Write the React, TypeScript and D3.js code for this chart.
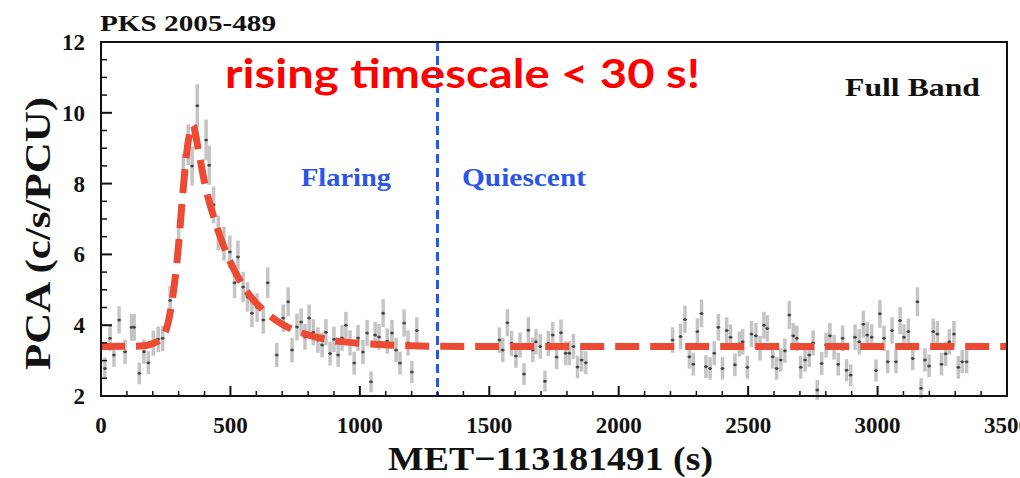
import React from "react";
import * as d3 from "d3";

// ---- data ----
const obsTime = [
  15, 35, 50, 70, 93, 118, 128, 148, 166, 183, 202, 221, 238, 267, 300, 318, 337, 352, 372, 406, 418, 435, 453, 475,
  498, 516, 529, 549, 566, 583, 603, 627, 644, 679, 704, 723, 738, 757, 773, 788, 804, 820, 838, 854, 869, 885, 900,
  916, 931, 946, 962, 978, 993, 1012, 1028, 1043, 1059, 1074, 1090, 1106, 1124, 1140, 1155, 1171, 1186, 1201, 1220,
  1539, 1552, 1570, 1586, 1603, 1619, 1634, 1651, 1668, 1680, 1697, 1715, 1728, 1745, 1760, 1777, 1795, 1809, 1825,
  1841, 1857, 1873,
  2208, 2239, 2256, 2273, 2288, 2304, 2320, 2337, 2353, 2369, 2385, 2401, 2417, 2432, 2449, 2466, 2479, 2497, 2513,
  2530, 2546, 2561, 2574, 2595, 2610, 2626, 2642, 2659, 2674, 2688, 2703, 2720, 2736, 2751, 2767, 2784, 2801, 2816,
  2832, 2848, 2865, 2880, 2896, 2913, 2929, 2945, 2960, 2977, 2994, 3009, 3025, 3039, 3056, 3071, 3087, 3102, 3119,
  3136, 3154, 3168, 3183, 3199, 3215, 3231, 3247, 3263, 3277, 3295, 3312, 3327, 3344,
];
const obsRate = [
  2.78, 3.63, 3.16, 4.15, 3.25, 3.94, 3.94, 2.64, 3.25, 2.94, 3.49, 3.6, 3.63, 4.7, 6.4, 8.3, 9.1, 8.5, 10.2, 9.23, 8.52,
  7.4, 6.6, 6.3, 6.07, 5.2, 5.93, 5.08, 4.8, 4.34, 4.5, 4.15, 5.2, 3.16, 4.2, 4.66, 3.3, 3.95, 4.09, 3.67, 4.2, 3.8, 3.58,
  3.44, 3.8, 3.2, 3.6, 3.16, 3.64, 4.0, 3.5, 2.93, 3.64, 3.24, 3.78, 2.4, 3.72, 3.67, 4.34, 3.55, 3.78, 3.3, 2.93, 4.06,
  3.5, 2.68, 3.85,
  3.58, 3.3, 4.07, 3.49, 3.13, 3.44, 2.62, 3.86, 3.3, 3.53, 3.4, 2.42, 3.49, 3.72, 3.1, 3.79, 3.21, 3.21, 3.4, 2.82,
  3.02, 2.94,
  3.58, 3.68, 4.16, 3.11, 2.9, 3.82, 4.33, 2.83, 2.78, 3.21, 3.94, 2.78, 3.85, 3.66, 2.88, 3.47, 3.53, 2.81, 3.75, 3.7,
  3.35, 4.0, 3.91, 3.11, 2.78, 3.02, 3.28, 4.29, 3.7, 3.63, 2.81, 3.02, 3.16, 3.5, 2.17, 2.92, 3.44, 3.7, 3.38, 2.9,
  3.63, 2.73, 2.59, 3.66, 3.53, 4.03, 3.72, 3.66, 2.72, 4.32, 3.63, 2.97, 3.85, 2.97, 4.13, 3.66, 3.82, 3.06, 4.66,
  2.22, 3.02, 2.85, 3.82, 3.75, 2.9, 3.19, 3.53, 3.75, 2.81, 2.97, 2.97,
];

const modelTime = [0, 150, 200, 240, 273, 297, 317, 335, 355, 375, 400, 440, 498, 560, 626, 700, 788, 885, 981, 1090, 1200, 1400, 3500];
const modelRate = [3.4, 3.41, 3.48, 3.68, 4.6, 6.05, 7.8, 9.1, 9.65, 9.0, 8.03, 6.95, 5.81, 4.99, 4.43, 4.03, 3.75, 3.58, 3.5, 3.45, 3.42, 3.4, 3.4];

const xTicks = [0, 500, 1000, 1500, 2000, 2500, 3000, 3500];
const yTicks = [2, 4, 6, 8, 10, 12];
const splitTime = 1300;

const W = 1020;
const H = 478;
const serif = "'Liberation Serif', 'Times New Roman', serif";

export default function App() {
  const x = d3.scaleLinear().domain([0, 3500]).range([101, 1007]);
  const y = d3.scaleLinear().domain([2, 12]).range([396, 42]);

  const modelPts: [number, number][] = modelTime.map((t, i) => [x(t), y(modelRate[i])]);
  const modelPath = d3.line().curve(d3.curveMonotoneX)(modelPts) || "";

  const xMinor = d3.range(0, 3501, 100).filter((v) => v % 500 !== 0);
  const yMinor = d3.range(2, 12.01, 0.5).filter((v) => Math.abs(v % 2) > 1e-6);

  const err = (v: number) => 0.19 * Math.sqrt(v);

  return (
    <svg width={W} height={H} style={{ position: "absolute", left: 0, top: 0, background: "#fff" }} fontFamily={serif}>
      <rect x={0} y={0} width={W} height={H} fill="#fff" />
      {/* error bars */}
      <g>
        {obsTime.map((t, i) => (
          <line key={"e" + i} x1={x(t)} x2={x(t)} y1={y(obsRate[i] - err(obsRate[i]))} y2={y(obsRate[i] + err(obsRate[i]))}
            stroke="#c4c4c4" strokeWidth={3.5} />
        ))}
        {obsTime.map((t, i) => (
          <g key={"p" + i}>
            <line x1={x(t) - 2} x2={x(t) + 2} y1={y(obsRate[i])} y2={y(obsRate[i])} stroke="#666" strokeWidth={1.2} />
            <circle cx={x(t)} cy={y(obsRate[i])} r={1.5} fill="#444" />
          </g>
        ))}
      </g>
      {/* model */}
      <path d={modelPath} fill="none" stroke="#ec4a32" strokeWidth={7} strokeDasharray="24 11" />
      {/* split line */}
      <line x1={x(splitTime)} x2={x(splitTime)} y1={y(12)} y2={y(2)} stroke="#2256f0" strokeWidth={3} strokeDasharray="9 5" />
      {/* frame */}
      <rect x={101} y={42} width={906} height={354} fill="none" stroke="#111" strokeWidth={2} />
      {/* x ticks */}
      {xTicks.map((t) => (
        <line key={"xt" + t} x1={x(t)} x2={x(t)} y1={396} y2={386} stroke="#111" strokeWidth={2} />
      ))}
      {xMinor.map((t) => (
        <line key={"xm" + t} x1={x(t)} x2={x(t)} y1={396} y2={391} stroke="#111" strokeWidth={1.5} />
      ))}
      {yTicks.map((v) => (
        <line key={"yt" + v} x1={101} x2={112} y1={y(v)} y2={y(v)} stroke="#111" strokeWidth={2} />
      ))}
      {yMinor.map((v) => (
        <line key={"ym" + v} x1={101} x2={107} y1={y(v)} y2={y(v)} stroke="#111" strokeWidth={1.5} />
      ))}
      {/* tick labels */}
      {xTicks.map((t) => (
        <text key={"xl" + t} x={x(t)} y={433} textAnchor="middle" fontSize={23} fontWeight="bold" fill="#111">{t}</text>
      ))}
      {yTicks.map((v) => (
        <text key={"yl" + v} x={85} y={y(v) + 8} textAnchor="end" fontSize={23} fontWeight="bold" fill="#111">{v}</text>
      ))}
      {/* titles */}
      <text x={388} y={470} fontSize={34} fontWeight="bold" fill="#111" textLength={325} lengthAdjust="spacingAndGlyphs">MET−113181491 (s)</text>
      <text transform="translate(50,370) rotate(-90)" fontSize={36} fontWeight="bold" fill="#111" textLength={273} lengthAdjust="spacingAndGlyphs">PCA (c/s/PCU)</text>
      <text x={100} y={31} fontSize={24} fontWeight="bold" fill="#111" textLength={176} lengthAdjust="spacingAndGlyphs">PKS 2005-489</text>
      <text x={845} y={96} fontSize={26} fontWeight="bold" fill="#111" textLength={135} lengthAdjust="spacingAndGlyphs">Full Band</text>
      <text x={301} y={186} fontSize={25} fontWeight="bold" fill="#2a55e8" textLength={90} lengthAdjust="spacingAndGlyphs">Flaring</text>
      <text x={462} y={186} fontSize={25} fontWeight="bold" fill="#2a55e8" textLength={124} lengthAdjust="spacingAndGlyphs">Quiescent</text>
      <text x={225} y={88} fontSize={40} fontWeight="bold" fill="#ff0000" fontFamily="Lato, 'Open Sans', sans-serif" textLength={475} lengthAdjust="spacingAndGlyphs">rising timescale &lt; 30 s!</text>
    </svg>
  );
}
